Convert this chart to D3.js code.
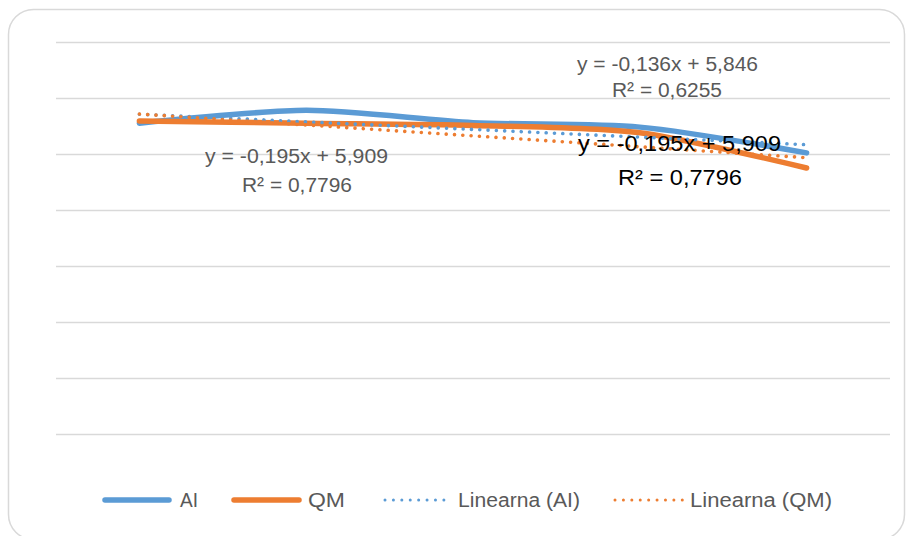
<!DOCTYPE html>
<html>
<head>
<meta charset="utf-8">
<script src="https://cdn.jsdelivr.net/npm/d3@7"></script>
<style>
  html, body { margin: 0; padding: 0; background: #ffffff; }
  svg { display: block; }
  text { font-family: "Liberation Sans Narrow", "Liberation Sans", Arial, sans-serif; }
</style>
</head>
<body>
<div id="chart"></div>
<script>
// ---- data ----
const categories = [1, 2, 3, 4, 5];
const seriesNames = ["AI", "QM"];
const aiValues = [5.55, 5.78, 5.56, 5.48, 5.02];
const qmValues = [5.59, 5.55, 5.51, 5.38, 4.75];
const trendSlopes = [-0.136, -0.195];
const trendIntercepts = [5.846, 5.909];
const yTicks = [0, 1, 2, 3, 4, 5, 6, 7];
const trendLabels = [
  ["y = -0,136x + 5,846", "R² = 0,6255"],
  ["y = -0,195x + 5,909", "R² = 0,7796"]
];
const legendLabels = ["AI", "QM", "Linearna (AI)", "Linearna (QM)"];

// ---- layout ----
const W = 906, H = 536;
const plot = { left: 56, right: 890, top: 42, bottom: 434 };
const colors = ["#5B9BD5", "#ED7D31"];
const textGray = "#595959";

const svg = d3.select("#chart").append("svg")
  .attr("width", W).attr("height", H);

// outer rounded border
svg.append("rect")
  .attr("x", 8.5).attr("y", 9.5)
  .attr("width", 896).attr("height", 530)
  .attr("rx", 25).attr("ry", 25)
  .attr("fill", "#ffffff")
  .attr("stroke", "#d9d9d9").attr("stroke-width", 1.5);

const x = d3.scaleBand().domain(categories).range([plot.left, plot.right]);
const xc = d => x(d) + x.bandwidth() / 2;
const y = d3.scaleLinear().domain([0, 7]).range([plot.bottom, plot.top]);

// gridlines via axis
const yAxis = d3.axisLeft(y).tickValues(yTicks)
  .tickSize(-(plot.right - plot.left)).tickFormat("");
const gAxis = svg.append("g")
  .attr("transform", `translate(${plot.left},0)`)
  .call(yAxis);
gAxis.select(".domain").remove();
gAxis.selectAll(".tick line")
  .attr("stroke", "#d9d9d9").attr("stroke-width", 1.3);

// trend lines
const trendData = seriesNames.map((n, i) =>
  categories.map(c => ({ c, v: trendIntercepts[i] + trendSlopes[i] * c })));
const straight = d3.line().x(d => xc(d.c)).y(d => y(d.v));

// series lines
const seriesData = [aiValues, qmValues].map(vals =>
  categories.map((c, i) => ({ c, v: vals[i] })));
const smooth = d3.line().x(d => xc(d.c)).y(d => y(d.v))
  .curve(d3.curveCardinal.tension(0.2));

seriesData.forEach((s, i) => {
  svg.append("path").datum(s)
    .attr("d", smooth)
    .attr("fill", "none")
    .attr("stroke", colors[i])
    .attr("stroke-width", 5.5)
    .attr("stroke-linecap", "round")
    .attr("stroke-linejoin", "round");
});
trendData.forEach((s, i) => {
  svg.append("path").datum(s)
    .attr("d", straight)
    .attr("fill", "none")
    .attr("stroke", colors[i])
    .attr("stroke-width", 3.6)
    .attr("stroke-linecap", "round")
    .attr("stroke-dasharray", "0.01 8.3");
});

// trend equation labels
function label(t, cx, yy, size, len, color) {
  svg.append("text")
    .attr("x", cx).attr("y", yy)
    .attr("text-anchor", "middle")
    .attr("font-size", size)
    .attr("fill", color)
    .attr("textLength", len)
    .attr("lengthAdjust", "spacingAndGlyphs")
    .text(t);
}
label(trendLabels[0][0], 667.5, 71, 20, 181, textGray);
label(trendLabels[0][1], 667, 97, 20, 110, textGray);
label(trendLabels[1][0], 296.5, 163, 20, 183, textGray);
label(trendLabels[1][1], 297, 192, 20, 110, textGray);
label(trendLabels[1][0], 679.5, 150.5, 22, 203, "#000000");
label(trendLabels[1][1], 680, 185, 22, 124, "#000000");

// legend
const legendY = 500;
const legendItems = [
  { x1: 105, x2: 169, tx: 180, len: 18, color: colors[0], dotted: false },
  { x1: 234, x2: 299, tx: 308, len: 37, color: colors[1], dotted: false },
  { x1: 385, x2: 452, tx: 458, len: 122, color: colors[0], dotted: true },
  { x1: 615, x2: 684, tx: 690, len: 142, color: colors[1], dotted: true }
];
legendItems.forEach((it, i) => {
  svg.append("line")
    .attr("x1", it.x1).attr("x2", it.x2)
    .attr("y1", legendY).attr("y2", legendY)
    .attr("stroke", it.color)
    .attr("stroke-width", it.dotted ? 3 : 5.5)
    .attr("stroke-linecap", "round")
    .attr("stroke-dasharray", it.dotted ? "0.01 8.4" : null);
  svg.append("text")
    .attr("x", it.tx).attr("y", legendY + 7)
    .attr("font-size", 20)
    .attr("fill", textGray)
    .attr("textLength", it.len)
    .attr("lengthAdjust", "spacingAndGlyphs")
    .text(legendLabels[i]);
});
</script>
</body>
</html>
